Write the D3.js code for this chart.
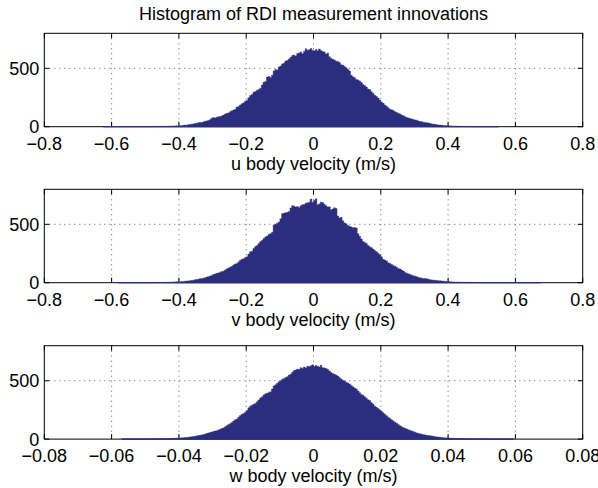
<!DOCTYPE html>
<html><head><meta charset="utf-8">
<script src="https://cdn.jsdelivr.net/npm/d3@7"></script>
<style>
body{margin:0;background:#fff}
svg{display:block}
text{font-family:"Liberation Sans",Arial,Helvetica,sans-serif;fill:#000}
</style></head>
<body><svg id="c" width="598" height="488"></svg>
<script>
const chartTitle = "Histogram of RDI measurement innovations";
const xAxisLabels = ["u body velocity (m/s)", "v body velocity (m/s)", "w body velocity (m/s)"];

// u body velocity histogram: bins of width 0.005 starting at -0.625
const uStart = -0.625, uBinWidth = 0.005;
const uCounts = [
1,0,0,1,0,0,0,1,0,0,1,0,0,1,0,1,0,0,1,1,
1,0,1,1,2,1,1,2,1,2,2,3,2,3,3,
3,4,3,5, 4,6,5,7, 8,7,10,9, 12,14,13,17, 19,22,24,27,
30,33,36,35, 41,46,49,53, 60,72,78,74, 82,85,88,92, 100,108,115,118,
128,137,142,150, 168,172,186,196, 205,218,226,248, 268,275,296,302, 312,318,330,358,
380,388,425,430, 422,440,478,490, 485,512,520,538, 545,562,568,580, 595,610,614,605,
628,632,640,625, 645,668,655,660, 670,655,648,662, 650,665,652,645, 640,622,630,600,
585,578,572,560, 558,550,530,528, 515,505,492,478, 440,428,420,405, 400,392,378,362,
352,340,322,318, 300,285,270,258, 245,228,212,200, 185,175,162,150, 146,138,128,122,
115,108,100,94, 85,78,74,70, 66,62,58,55, 48,45,42,38, 36,33,31,27,
24,22,20,17, 15,14,12,11, 10,9,8,7, 6,6,5,5, 4,4,3,3,
3,2,3,2,2,1,2,1,1,2,1,1,0,1,1,0,1,0,1,1
];

// v body velocity histogram: bins of width 0.005 starting at -0.58
const vStart = -0.58, vBinWidth = 0.005;
const vCounts = [
1,0,0,1,0,1,0,0,1,0,1,1,0,1,0,1,1,2,1,1,2,1,2,2,3,2,
3,3,4,4, 5,5,6,7, 8,9,9,11, 11,12,14,15, 17,19,22,25,
28,29,33,36, 38,42,48,52, 57,62,70,75, 80,84,90,96, 99,108,118,126,
133,140,152,160, 165,178,192,200, 205,215,222,245, 265,270,292,310, 318,335,352,364,
378,392,400,415, 420,432,495,500, 510,520,548,590, 596,600,604,610, 640,660,655,648,
652,645,660,668, 670,680,684,690, 716,690,705,718, 668,675,690,686, 672,660,648,650,
625,632,642,635, 572,555,560,530, 512,505,490,483, 478,470,472,468, 420,398,375,352,
345,335,318,308, 300,288,275,265, 252,240,222,200, 195,185,170,165, 156,148,140,132,
122,118,108,100, 88,82,76,70, 64,60,55,50, 44,42,38,36, 35,33,29,26,
23,22,20,18, 17,16,14,13, 12,11,10,8, 7,6,6,5, 5,4,4,4,
4,3,3,3,2,3,2,2,2,2, 2,1,2,1,1,2,1,1,1,1, 1,0,1,1,0,1,1,0,1,0,
1,0,0,1,0,1,0,0,1,0, 0,1,0,0,1
];

// w body velocity histogram: bins of width 0.0005 starting at -0.057
const wStart = -0.057, wBinWidth = 0.0005;
const wCounts = [
1,0,0,1,0,0,1,0,1,0,1,1,0,1,1,1,2,1,2,2,2,3,2,3,
3,4,4,5, 5,6,6,7, 8,8,10,11, 11,13,14,16, 17,20,22,25,
27,30,33,36, 38,43,48,52, 56,60,65,70, 72,78,84,90, 96,105,115,126,
132,142,155,165, 172,188,202,212, 220,230,245,268, 282,290,298,305, 320,335,352,362,
378,388,392,400, 405,430,455,465, 478,492,500,512, 520,528,535,550, 555,572,588,592,
600,596,612,605, 618,610,624,620, 628,636,622,630, 625,618,632,612, 610,605,598,584,
570,562,555,548, 540,528,515,505, 498,488,480,472, 460,448,438,430, 412,398,382,376,
362,350,336,330, 312,298,282,272, 262,250,238,225, 212,200,188,176, 166,156,145,135,
124,115,106,98, 92,86,80,74, 70,64,58,53, 49,45,42,38, 35,32,30,28,
26,24,21,19, 17,15,14,12, 11,10,9,8, 7,6,6,5, 5,4,4,4,
3,3,3,2,3,2,2,2,1,2,1,1,2,1,1,0,1,1,0,1,0,1,0,1,0,0,1,0,1
];

const yTickValues = [0, 500];
const uvTickValues = [-0.8, -0.6, -0.4, -0.2, 0, 0.2, 0.4, 0.6, 0.8];
const uvTickLabels = ["\u22120.8", "\u22120.6", "\u22120.4", "\u22120.2", "0", "0.2", "0.4", "0.6", "0.8"];
const wTickValues = [-0.08, -0.06, -0.04, -0.02, 0, 0.02, 0.04, 0.06, 0.08];
const wTickLabels = ["\u22120.08", "\u22120.06", "\u22120.04", "\u22120.02", "0", "0.02", "0.04", "0.06", "0.08"];

const panels = [
  {start: uStart, bw: uBinWidth, counts: uCounts, ticks: uvTickValues, labels: uvTickLabels, xlab: xAxisLabels[0], top: 33.3},
  {start: vStart, bw: vBinWidth, counts: vCounts, ticks: uvTickValues, labels: uvTickLabels, xlab: xAxisLabels[1], top: 189.3},
  {start: wStart, bw: wBinWidth, counts: wCounts, ticks: wTickValues, labels: wTickLabels, xlab: xAxisLabels[2], top: 345.7}
];

const svg = d3.select("#c");
const L = 44.3, R = 582.7, H = 93.4;
const navy = "#2b2e7e";
const FS = 18;

svg.append("text").attr("x", (L + R) / 2).attr("y", 19.5).attr("text-anchor", "middle")
  .style("font-size", FS + "px").text(chartTitle);

panels.forEach(p => {
  const t = p.ticks;
  const x = d3.scaleLinear().domain([t[0], t[t.length - 1]]).range([L, R]);
  const y = d3.scaleLinear().domain([0, 800]).range([p.top + H, p.top]);
  const g = svg.append("g");
  const bins = p.counts.map((c, i) => ({x0: p.start + i * p.bw, c}));
  // closing point at the right edge of the last bin
  bins.push({x0: p.start + p.counts.length * p.bw, c: p.counts[p.counts.length - 1]});

  // grid
  g.selectAll(".gx").data(t.slice(1, -1)).enter().append("line")
    .attr("x1", d => x(d)).attr("x2", d => x(d)).attr("y1", y(800)).attr("y2", y(0))
    .attr("stroke", "#333").attr("stroke-width", 0.8).attr("stroke-dasharray", "1,4");
  g.selectAll(".gy").data(yTickValues.filter(v => v > 0)).enter().append("line")
    .attr("x1", L).attr("x2", R).attr("y1", d => y(d)).attr("y2", d => y(d))
    .attr("stroke", "#333").attr("stroke-width", 0.8).attr("stroke-dasharray", "1,4");

  // box
  g.append("rect").attr("x", L).attr("y", y(800)).attr("width", R - L).attr("height", H)
    .attr("fill", "none").attr("stroke", "#000").attr("stroke-width", 1);

  // ticks (inward, bottom & top, left & right)
  const tl = 5;
  t.forEach(v => {
    g.append("line").attr("x1", x(v)).attr("x2", x(v)).attr("y1", y(0)).attr("y2", y(0) - tl).attr("stroke", "#000");
    g.append("line").attr("x1", x(v)).attr("x2", x(v)).attr("y1", y(800)).attr("y2", y(800) + tl).attr("stroke", "#000");
  });
  yTickValues.forEach(v => {
    g.append("line").attr("x1", L).attr("x2", L + tl).attr("y1", y(v)).attr("y2", y(v)).attr("stroke", "#000");
    g.append("line").attr("x1", R).attr("x2", R - tl).attr("y1", y(v)).attr("y2", y(v)).attr("stroke", "#000");
  });

  // histogram bars as one stepped area
  const area = d3.area().curve(d3.curveStepAfter)
    .x(d => x(d.x0)).y0(y(0)).y1(d => y(d.c));
  g.append("path").datum(bins).attr("d", area)
    .attr("fill", navy).attr("stroke", navy).attr("stroke-width", 0.4);
  // baseline of the bar patches
  g.append("line").attr("x1", x(bins[0].x0)).attr("x2", x(bins[bins.length - 1].x0))
    .attr("y1", y(0)).attr("y2", y(0)).attr("stroke", navy).attr("stroke-width", 1.2);

  // tick labels
  g.selectAll(".xl").data(t).enter().append("text")
    .attr("x", d => x(d)).attr("y", y(0) + 23).attr("text-anchor", "middle")
    .style("font-size", FS + "px").text((d, i) => p.labels[i]);
  g.selectAll(".yl").data(yTickValues).enter().append("text")
    .attr("x", L - 5).attr("y", d => y(d)).attr("dy", "0.36em").attr("text-anchor", "end")
    .style("font-size", FS + "px").text(d => d);

  g.append("text").attr("x", (L + R) / 2).attr("y", y(0) + 43).attr("text-anchor", "middle")
    .style("font-size", FS + "px").text(p.xlab);
});
</script></body></html>
